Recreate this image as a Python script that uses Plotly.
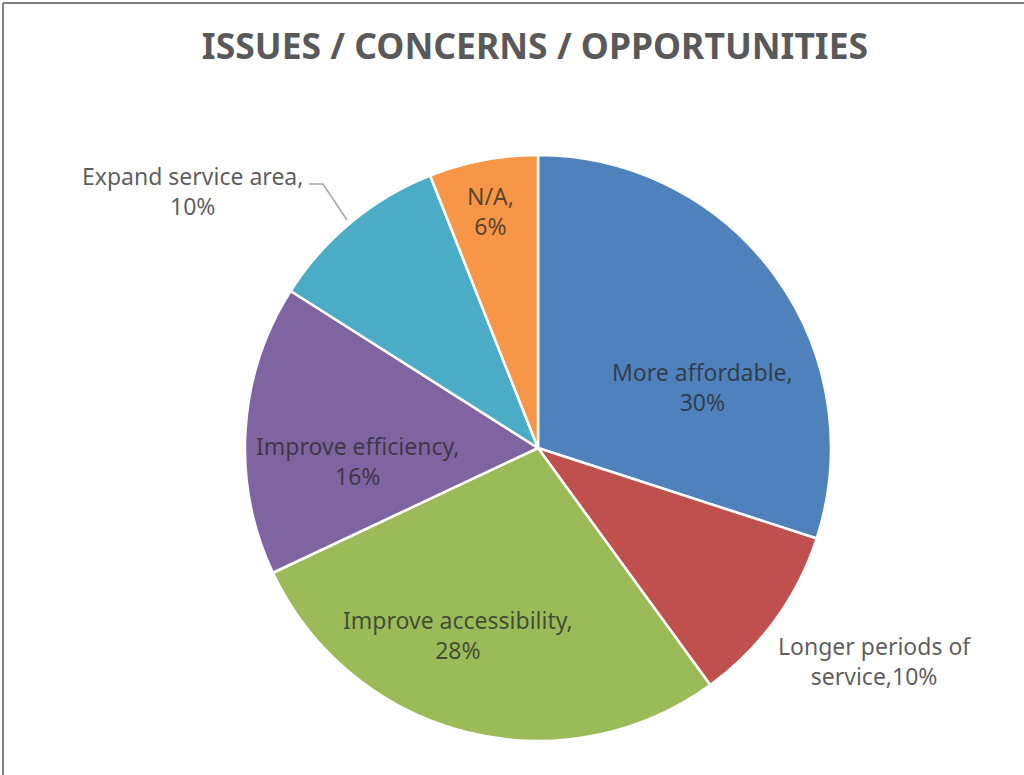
import plotly.graph_objects as go

# data
labels = ["More affordable", "Longer periods of service", "Improve accessibility",
          "Improve efficiency", "Expand service area", "N/A"]
values = [30, 10, 28, 16, 10, 6]
display_names = ["More affordable", "Longer periods of<br>service", "Improve accessibility",
                 "Improve efficiency", "Expand service area", "N/A"]
separators = [",<br>", ",", ",<br>", ",<br>", ",<br>", ",<br>"]
colors = ["#4F81BD", "#C0504D", "#9BBB59", "#8064A2", "#4BACC6", "#F79646"]

W, H = 1024, 775
FONT = "Noto Sans"
TEXT_COLOR = "rgba(40,40,40,0.75)"

# label centres in pixels (Excel "best fit" placement)
label_pos = [(702, 387), (874, 661), (458, 635), (357, 461), (192, 191), (490, 211)]


def px(x):
    return x / W


def py(y):
    return 1 - y / H


texts = [f"{n}{s}{v}%" for n, s, v in zip(display_names, separators, values)]

# pie centre (538, 448), radius 293
cx, cy, r = 538, 448, 293

fig = go.Figure(go.Pie(
    labels=labels,
    values=values,
    textinfo="none",
    marker=dict(colors=colors, line=dict(color="white", width=2.5)),
    sort=False,
    direction="clockwise",
    rotation=0,
    showlegend=False,
    hoverinfo="label+percent",
    domain=dict(x=[px(cx - r), px(cx + r)], y=[py(cy + r), py(cy - r)]),
))

# data labels
for t, (x, y) in zip(texts, label_pos):
    fig.add_annotation(
        text=t, x=px(x), y=py(y), xref="paper", yref="paper",
        xanchor="center", yanchor="middle",
        showarrow=False, align="center",
        font=dict(family=FONT, size=23, color=TEXT_COLOR),
    )

# leader line for Expand service area
fig.add_shape(
    type="path", xref="paper", yref="paper",
    path=f"M {px(309)} {py(184)} L {px(323)} {py(184)} L {px(347)} {py(220)}",
    line=dict(color="#A6A6A6", width=1.5),
)

# frame lines (left and top)
fig.add_shape(type="line", xref="paper", yref="paper",
              x0=px(3), x1=px(3), y0=0, y1=py(3),
              line=dict(color="#808080", width=2))
fig.add_shape(type="line", xref="paper", yref="paper",
              x0=px(3), x1=1, y0=py(3), y1=py(3),
              line=dict(color="#808080", width=2))

fig.update_layout(
    width=W, height=H,
    margin=dict(l=0, r=0, t=0, b=0),
    paper_bgcolor="white",
    plot_bgcolor="white",
    title=dict(
        text="<b>ISSUES / CONCERNS / OPPORTUNITIES</b>",
        x=px(535), xanchor="center",
        y=py(47), yanchor="middle", yref="container",
        font=dict(family=FONT, size=35.5, color="#595959"),
    ),
)

fig.write_html("out.html", config={"displayModeBar": False},
               post_script="document.body.style.margin='0';")
